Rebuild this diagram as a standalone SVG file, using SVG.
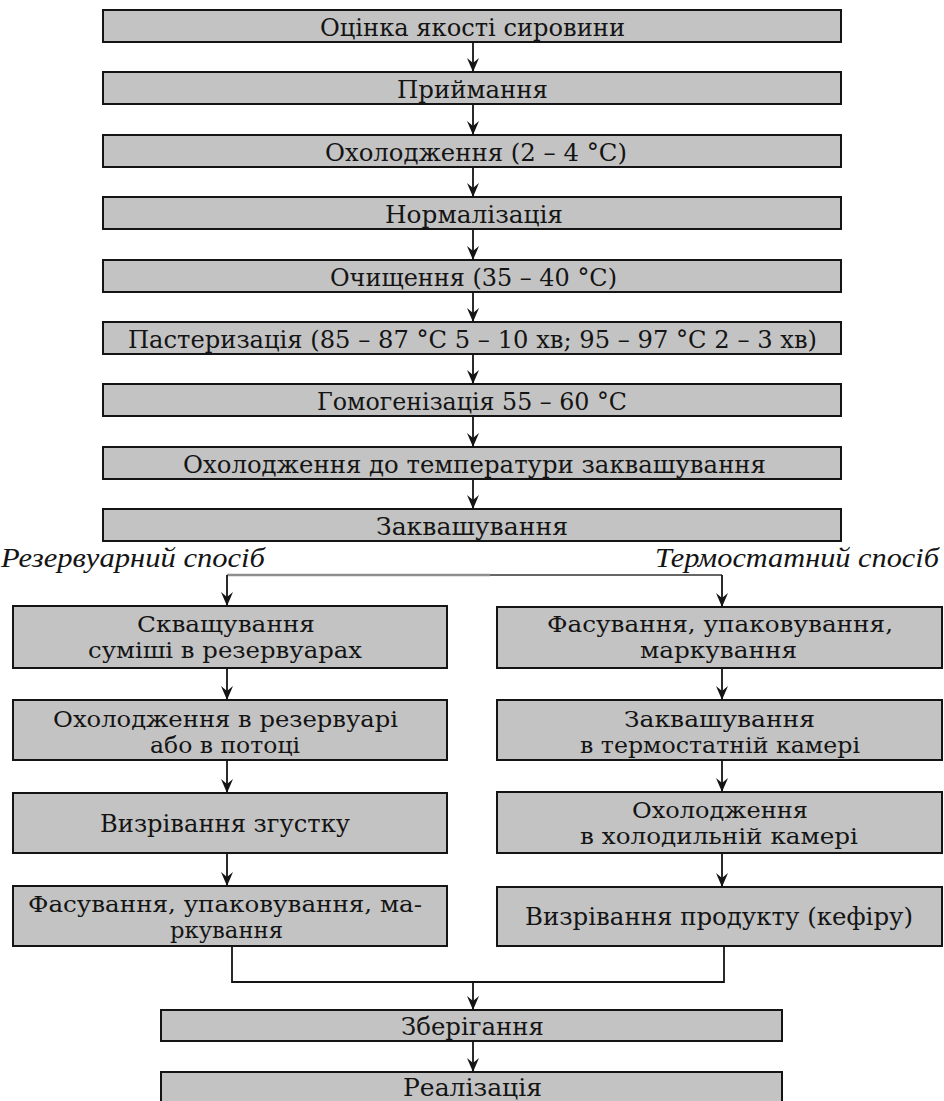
<svg xmlns="http://www.w3.org/2000/svg" width="944" height="1101" viewBox="0 0 944 1101">
<style>
.box{fill:#c3c3c3;stroke:#141414;stroke-width:2}
.t{font-family:"DejaVu Serif","Liberation Serif",serif;font-size:25px;fill:#141414}
.t2{font-family:"DejaVu Serif","Liberation Serif",serif;font-size:23px;fill:#141414}
.it{font-family:"Liberation Serif",serif;font-style:italic;font-size:27px;fill:#141414}
.c{stroke:#141414;stroke-width:1.8;fill:none}
</style>
<defs>
<marker id="ah" viewBox="0 0 14 12" refX="14" refY="6" markerWidth="14" markerHeight="12" markerUnits="userSpaceOnUse" orient="auto">
<path d="M0,0 L14,6 L0,12 L5,6 Z" fill="#141414"/>
</marker>
</defs>
<rect width="944" height="1101" fill="#fff"/>

<g id="n1"><rect class="box" x="103" y="10" width="738" height="32"/><text class="t" x="320" y="35.5" textLength="305" lengthAdjust="spacingAndGlyphs">Оцінка якості сировини</text></g>
<g id="n2"><rect class="box" x="103" y="72" width="738" height="32"/><text class="t" x="397" y="97.5" textLength="151" lengthAdjust="spacingAndGlyphs">Приймання</text></g>
<g id="n3"><rect class="box" x="103" y="135" width="738" height="32"/><text class="t" x="325" y="160.5" textLength="302" lengthAdjust="spacingAndGlyphs">Охолодження (2 – 4 °C)</text></g>
<g id="n4"><rect class="box" x="103" y="197" width="738" height="32"/><text class="t" x="385" y="222.5" textLength="178" lengthAdjust="spacingAndGlyphs">Нормалізація</text></g>
<g id="n5"><rect class="box" x="103" y="260" width="738" height="32"/><text class="t" x="330" y="285.5" textLength="287" lengthAdjust="spacingAndGlyphs">Очищення (35 – 40 °C)</text></g>
<g id="n6"><rect class="box" x="103" y="322" width="738" height="32"/><text class="t" x="128" y="347.5" textLength="689" lengthAdjust="spacingAndGlyphs">Пастеризація (85 – 87 °C 5 – 10 хв; 95 – 97 °C 2 – 3 хв)</text></g>
<g id="n7"><rect class="box" x="103" y="384" width="738" height="32"/><text class="t" x="317" y="409.5" textLength="310" lengthAdjust="spacingAndGlyphs">Гомогенізація 55 – 60 °C</text></g>
<g id="n8"><rect class="box" x="103" y="447" width="738" height="32"/><text class="t" x="183" y="472.5" textLength="583" lengthAdjust="spacingAndGlyphs">Охолодження до температури заквашування</text></g>
<g id="n9"><rect class="box" x="103" y="509" width="738" height="32"/><text class="t" x="376" y="534.5" textLength="192" lengthAdjust="spacingAndGlyphs">Заквашування</text></g>

<g id="lbl-res"><text class="it" x="1" y="567" textLength="264" lengthAdjust="spacingAndGlyphs">Резервуарний спосіб</text></g>
<g id="lbl-term"><text class="it" x="655" y="567" textLength="284" lengthAdjust="spacingAndGlyphs">Термостатний спосіб</text></g>

<g id="l1"><rect class="box" x="13" y="606" width="434" height="62"/><text class="t2" x="137" y="632" textLength="178" lengthAdjust="spacingAndGlyphs">Скващування</text><text class="t2" x="88" y="658" textLength="274" lengthAdjust="spacingAndGlyphs">суміші в резервуарах</text></g>
<g id="l2"><rect class="box" x="13" y="700" width="434" height="60"/><text class="t2" x="53" y="727" textLength="345" lengthAdjust="spacingAndGlyphs">Охолодження в резервуарі</text><text class="t2" x="150" y="753" textLength="150" lengthAdjust="spacingAndGlyphs">або в потоці</text></g>
<g id="l3"><rect class="box" x="13" y="793" width="434" height="60"/><text class="t" x="100" y="832" textLength="250" lengthAdjust="spacingAndGlyphs">Визрівання згустку</text></g>
<g id="l4"><rect class="box" x="13" y="886" width="434" height="60"/><text class="t2" x="28" y="912" textLength="394" lengthAdjust="spacingAndGlyphs">Фасування, упаковування, ма-</text><text class="t2" x="170" y="938" textLength="113" lengthAdjust="spacingAndGlyphs">ркування</text></g>

<g id="r1"><rect class="box" x="497" y="607" width="445" height="61"/><text class="t2" x="547" y="632" textLength="346" lengthAdjust="spacingAndGlyphs">Фасування, упаковування,</text><text class="t2" x="640" y="658" textLength="157" lengthAdjust="spacingAndGlyphs">маркування</text></g>
<g id="r2"><rect class="box" x="497" y="700" width="445" height="60"/><text class="t2" x="624" y="727" textLength="191" lengthAdjust="spacingAndGlyphs">Заквашування</text><text class="t2" x="580" y="753" textLength="280" lengthAdjust="spacingAndGlyphs">в термостатній камері</text></g>
<g id="r3"><rect class="box" x="497" y="792" width="445" height="61"/><text class="t2" x="632" y="818" textLength="176" lengthAdjust="spacingAndGlyphs">Охолодження</text><text class="t2" x="580" y="844" textLength="278" lengthAdjust="spacingAndGlyphs">в холодильній камері</text></g>
<g id="r4"><rect class="box" x="497" y="887" width="445" height="59"/><text class="t" x="525" y="925" textLength="388" lengthAdjust="spacingAndGlyphs">Визрівання продукту (кефіру)</text></g>

<g id="n10"><rect class="box" x="161" y="1010" width="621" height="31"/><text class="t" x="401" y="1035" textLength="143" lengthAdjust="spacingAndGlyphs">Зберігання</text></g>
<g id="n11"><rect class="box" x="161" y="1072" width="621" height="40"/><text class="t" x="403" y="1096" textLength="139" lengthAdjust="spacingAndGlyphs">Реалізація</text></g>

<g id="connectors">
<line class="c" x1="473" y1="42" x2="473" y2="72" marker-end="url(#ah)"/>
<line class="c" x1="473" y1="104" x2="473" y2="135" marker-end="url(#ah)"/>
<line class="c" x1="473" y1="167" x2="473" y2="197" marker-end="url(#ah)"/>
<line class="c" x1="473" y1="229" x2="473" y2="260" marker-end="url(#ah)"/>
<line class="c" x1="473" y1="292" x2="473" y2="322" marker-end="url(#ah)"/>
<line class="c" x1="473" y1="354" x2="473" y2="384" marker-end="url(#ah)"/>
<line class="c" x1="473" y1="416" x2="473" y2="447" marker-end="url(#ah)"/>
<line class="c" x1="473" y1="479" x2="473" y2="509" marker-end="url(#ah)"/>
<path d="M227,575 H490" stroke="#8e8e8e" stroke-width="2.5" fill="none"/>
<path d="M490,575 H722" stroke="#333" stroke-width="1.3" fill="none"/>
<line class="c" x1="227" y1="575" x2="227" y2="606" marker-end="url(#ah)"/>
<line class="c" x1="722" y1="575" x2="722" y2="607" marker-end="url(#ah)"/>
<line class="c" x1="227" y1="668" x2="227" y2="700" marker-end="url(#ah)"/>
<line class="c" x1="227" y1="760" x2="227" y2="793" marker-end="url(#ah)"/>
<line class="c" x1="227" y1="853" x2="227" y2="886" marker-end="url(#ah)"/>
<line class="c" x1="722" y1="668" x2="722" y2="700" marker-end="url(#ah)"/>
<line class="c" x1="722" y1="760" x2="722" y2="792" marker-end="url(#ah)"/>
<line class="c" x1="722" y1="853" x2="722" y2="887" marker-end="url(#ah)"/>
<path class="c" d="M232,946 V982 H724 V946"/>
<line class="c" x1="473" y1="982" x2="473" y2="1010" marker-end="url(#ah)"/>
<line class="c" x1="473" y1="1041" x2="473" y2="1072" marker-end="url(#ah)"/>
</g>
</svg>
